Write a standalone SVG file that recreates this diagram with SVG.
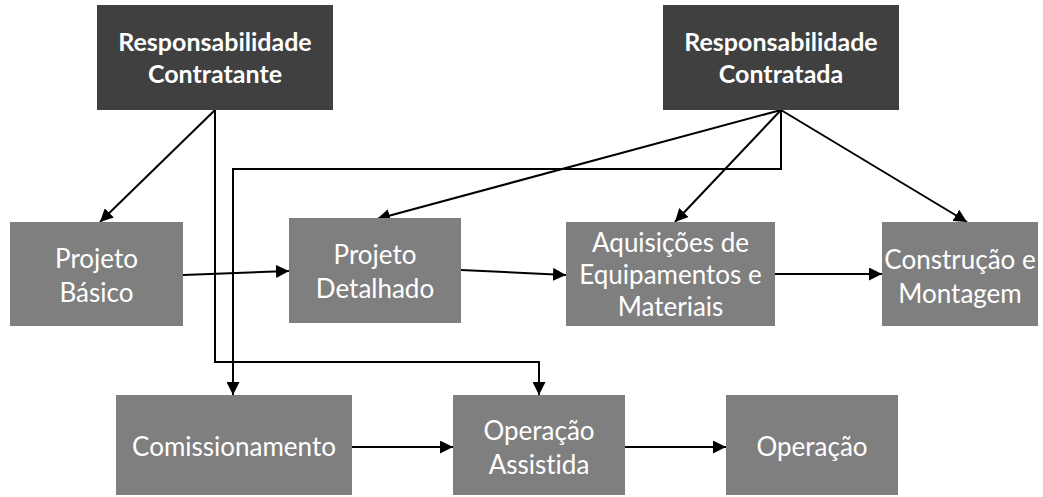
<svg xmlns="http://www.w3.org/2000/svg" width="1043" height="497" viewBox="0 0 1043 497">
<style>
.dark{fill:#404040}
.gray{fill:#7f7f7f}
.tb{font-family:Lato,"Liberation Sans",sans-serif;font-weight:bold;font-size:25px;fill:#ffffff;text-anchor:middle;font-variant-ligatures:none}
.t{font-family:Lato,"Liberation Sans",sans-serif;font-size:26px;fill:#ffffff;text-anchor:middle;font-variant-ligatures:none}
.c{fill:none;stroke:#000000;stroke-width:2}
</style>
<defs>
<marker id="arr" viewBox="0 0 10 10" refX="10" refY="5" markerWidth="13" markerHeight="13" markerUnits="userSpaceOnUse" orient="auto">
<path d="M0,0 L10,5 L0,10 z" fill="#000000"/>
</marker>
</defs>
<rect width="1043" height="497" fill="#ffffff"/>
<g id="connectors">
<line class="c" x1="215" y1="110" x2="100" y2="222" marker-end="url(#arr)"/>
<polyline class="c" points="215,110 215,362 539,362 539,395" marker-end="url(#arr)"/>
<polyline class="c" points="781,110 781,169 233,169 233,395" marker-end="url(#arr)"/>
<line class="c" x1="781" y1="110" x2="377" y2="219" marker-end="url(#arr)"/>
<line class="c" x1="781" y1="110" x2="675" y2="222" marker-end="url(#arr)"/>
<line class="c" x1="781" y1="110" x2="967" y2="222" marker-end="url(#arr)"/>
<line class="c" x1="183" y1="275" x2="289" y2="271" marker-end="url(#arr)"/>
<line class="c" x1="461" y1="270" x2="566" y2="275" marker-end="url(#arr)"/>
<line class="c" x1="775" y1="274" x2="882" y2="274" marker-end="url(#arr)"/>
<line class="c" x1="352" y1="447" x2="453" y2="447" marker-end="url(#arr)"/>
<line class="c" x1="625" y1="447" x2="726" y2="447" marker-end="url(#arr)"/>
</g>
<g id="contratante">
<rect class="dark" x="97" y="5" width="236" height="105"/>
<text class="tb" x="215" y="51">Responsabilidade</text>
<text class="tb" x="215" y="83">Contratante</text>
</g>
<g id="contratada">
<rect class="dark" x="663" y="5" width="236" height="105"/>
<text class="tb" x="781" y="51">Responsabilidade</text>
<text class="tb" x="781" y="83">Contratada</text>
</g>
<g id="projeto-basico">
<rect class="gray" x="10" y="222" width="173" height="104"/>
<text class="t" x="96.5" y="268">Projeto</text>
<text class="t" x="96.5" y="302">Básico</text>
</g>
<g id="projeto-detalhado">
<rect class="gray" x="289" y="218" width="172" height="105"/>
<text class="t" x="375" y="264">Projeto</text>
<text class="t" x="375" y="298">Detalhado</text>
</g>
<g id="aquisicoes">
<rect class="gray" x="566" y="222" width="209" height="104"/>
<text class="t" x="670.5" y="252">Aquisições de</text>
<text class="t" x="670.5" y="284">Equipamentos e</text>
<text class="t" x="670.5" y="316">Materiais</text>
</g>
<g id="construcao">
<rect class="gray" x="882" y="222" width="156" height="104"/>
<text class="t" x="960" y="269" font-size="25">Construção e</text>
<text class="t" x="960" y="303" font-size="25">Montagem</text>
</g>
<g id="comissionamento">
<rect class="gray" x="116" y="395" width="236" height="100"/>
<text class="t" x="234" y="456">Comissionamento</text>
</g>
<g id="operacao-assistida">
<rect class="gray" x="453" y="395" width="172" height="100"/>
<text class="t" x="539" y="440">Operação</text>
<text class="t" x="539" y="474">Assistida</text>
</g>
<g id="operacao">
<rect class="gray" x="726" y="395" width="172" height="100"/>
<text class="t" x="812" y="456">Operação</text>
</g>
</svg>
